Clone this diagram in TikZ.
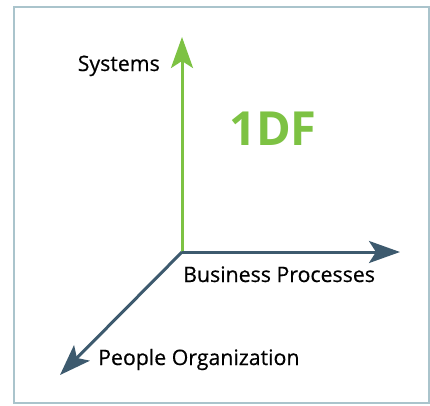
\documentclass[tikz,border=0pt]{standalone}
\usepackage{fontspec}
\setmainfont{Open Sans}
\newfontfamily\lblfont[FakeBold=0.5]{Open Sans}
\usetikzlibrary{arrows.meta}
\definecolor{axgreen}{HTML}{7DC243}
\definecolor{axblue}{HTML}{3D5A6E}
\definecolor{frame}{HTML}{AAC4CC}
\tikzset{
  axis/.style={line width=3pt, -{Stealth[length=31pt,width=22pt,inset=7pt]}},
  lbl/.style={inner sep=0pt, font=\lblfont\fontsize{21.3}{24}\selectfont, text=black},
}
\begin{document}
\begin{tikzpicture}[x=1pt,y=-1pt]
\useasboundingbox (0,0) rectangle (430,405);
\draw[frame, line width=2pt] (14,7) rectangle (429,403);
\coordinate (o) at (182,252);
\coordinate (sys) at (182,37);
\coordinate (bp) at (400,252);
\coordinate (po) at (60,375);
\draw[axis, axgreen] (o) -- (sys);
\draw[axis, axblue] (o) -- (bp);
\draw[axis, axblue] (o) -- (po);
\node[lbl, anchor=base east] (tsys) at (160,71) {Systems};
\node[lbl, anchor=base west] (tbp) at (183,282) {Business Processes};
\node[lbl, anchor=base west] (tpo) at (98,365) {People Organization};
\node[inner sep=0pt, anchor=base west, text=axgreen, font=\fontsize{47}{54}\selectfont\bfseries] (tdf) at (229,145) {1DF};
\end{tikzpicture}
\end{document}
